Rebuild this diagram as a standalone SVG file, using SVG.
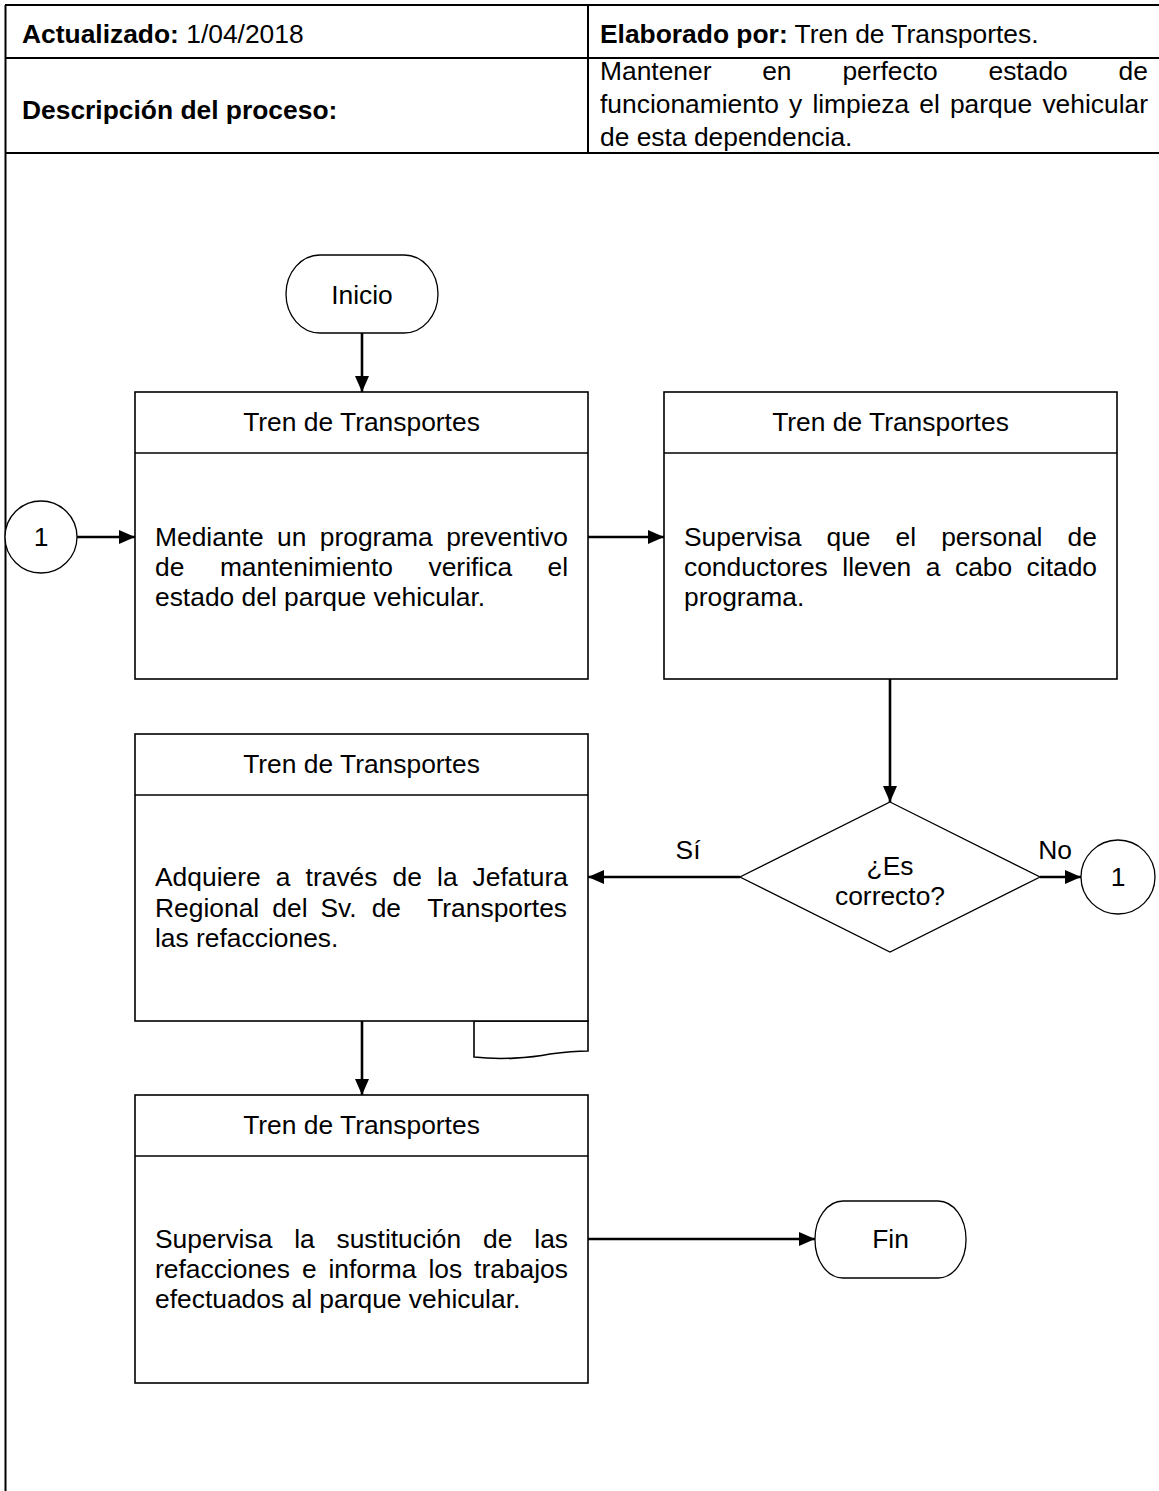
<svg xmlns="http://www.w3.org/2000/svg" width="1159" height="1491" viewBox="0 0 1159 1491">
<defs>
<marker id="arr" markerWidth="16" markerHeight="14" refX="16" refY="7" orient="auto" markerUnits="userSpaceOnUse">
<path d="M0,0 L16,7 L0,14 Z" fill="#000"/>
</marker>
<style>
text{font-family:"Liberation Sans",Arial,sans-serif;font-size:26.4px;fill:#000}
.b{font-weight:bold}
.c{text-anchor:middle}
.frame{stroke:#000;stroke-width:2;fill:none}
.box{stroke:#000;stroke-width:1.6;fill:#fff}
.conn{stroke:#000;stroke-width:2.6;fill:none;marker-end:url(#arr)}
.shape{stroke:#000;stroke-width:1.3;fill:#fff}
</style>
</defs>
<rect width="1159" height="1491" fill="#fff"/>
<g id="header">
<path class="frame" d="M5,5 H1159 M5,58 H1159 M5,153 H1159 M5.5,5 V1491 M588,5 V153"/>
<text x="22" y="43"><tspan class="b">Actualizado:</tspan> 1/04/2018</text>
<text x="600" y="43"><tspan class="b">Elaborado por:</tspan> Tren de Transportes.</text>
<text x="22" y="119" class="b">Descripción del proceso:</text>
<text y="80"><tspan x="600">Mantener</tspan><tspan x="762.2">en</tspan><tspan x="842.4">perfecto</tspan><tspan x="988.5">estado</tspan><tspan x="1118.6">de</tspan></text>
<text y="113"><tspan x="600">funcionamiento</tspan><tspan x="789.1">y</tspan><tspan x="812.4">limpieza</tspan><tspan x="919.3">el</tspan><tspan x="949.9">parque</tspan><tspan x="1042.4">vehicular</tspan></text>
<text x="600" y="146">de esta dependencia.</text>
</g>
<g id="connectors">
<line class="conn" x1="362" y1="333" x2="362" y2="392"/>
<line class="conn" x1="77" y1="537" x2="135" y2="537"/>
<line class="conn" x1="588" y1="537" x2="664" y2="537"/>
<line class="conn" x1="890" y1="679" x2="890" y2="802"/>
<line class="conn" x1="740" y1="877" x2="588" y2="877"/>
<line class="conn" x1="1040" y1="877" x2="1081" y2="877"/>
<line class="conn" x1="362" y1="1021" x2="362" y2="1095"/>
<line class="conn" x1="588" y1="1239" x2="815" y2="1239"/>
<text x="688" y="859" class="c">Sí</text>
<text x="1055" y="859" class="c">No</text>
</g>
<g id="inicio">
<rect class="shape" x="286" y="255" width="152" height="78" rx="34" ry="39"/>
<text x="362" y="304" class="c">Inicio</text>
</g>
<g id="conn-1-left">
<circle class="shape" cx="41" cy="537" r="36"/>
<text x="41" y="546" class="c">1</text>
</g>
<g id="boxA">
<rect class="box" x="135" y="392" width="453" height="287"/>
<line class="box" x1="135" y1="453" x2="588" y2="453"/>
<text x="361.5" y="431" class="c">Tren de Transportes</text>
<text y="546"><tspan x="155">Mediante</tspan><tspan x="277">un</tspan><tspan x="319.8">programa</tspan><tspan x="446.2">preventivo</tspan></text>
<text y="576"><tspan x="155">de</tspan><tspan x="219.9">mantenimiento</tspan><tspan x="428.5">verifica</tspan><tspan x="547.5">el</tspan></text>
<text x="155" y="606">estado del parque vehicular.</text>
</g>
<g id="boxB">
<rect class="box" x="664" y="392" width="453" height="287"/>
<line class="box" x1="664" y1="453" x2="1117" y2="453"/>
<text x="890.5" y="431" class="c">Tren de Transportes</text>
<text y="546"><tspan x="684">Supervisa</tspan><tspan x="826.5">que</tspan><tspan x="895.6">el</tspan><tspan x="941.2">personal</tspan><tspan x="1067.6">de</tspan></text>
<text y="576"><tspan x="684">conductores</tspan><tspan x="842.3">lleven</tspan><tspan x="925.8">a</tspan><tspan x="955">cabo</tspan><tspan x="1026.6">citado</tspan></text>
<text x="684" y="606">programa.</text>
</g>
<g id="decision">
<polygon class="shape" points="890,802 1040,877 890,952 740,877"/>
<text x="890" y="875" class="c">¿Es</text>
<text x="890" y="905" class="c">correcto?</text>
</g>
<g id="conn-1-right">
<circle class="shape" cx="1118" cy="877" r="37"/>
<text x="1118" y="886" class="c">1</text>
</g>
<g id="boxC">
<path class="box" d="M474,1021 V1057 C500,1060 530,1058 550,1054 C565,1052 575,1051 588,1051 V1021 Z"/>
<rect class="box" x="135" y="734" width="453" height="287"/>
<line class="box" x1="135" y1="795" x2="588" y2="795"/>
<text x="361.5" y="773" class="c">Tren de Transportes</text>
<text y="886"><tspan x="155">Adquiere</tspan><tspan x="275.8">a</tspan><tspan x="305.6">través</tspan><tspan x="392.6">de</tspan><tspan x="437.1">la</tspan><tspan x="472.6">Jefatura</tspan></text>
<text y="917"><tspan x="155">Regional</tspan><tspan x="272.3">del</tspan><tspan x="320.5">Sv.</tspan><tspan x="371.7">de</tspan><tspan x="427.2">Transportes</tspan></text>
<text x="155" y="947">las refacciones.</text>
</g>
<g id="boxD">
<rect class="box" x="135" y="1095" width="453" height="288"/>
<line class="box" x1="135" y1="1156" x2="588" y2="1156"/>
<text x="361.5" y="1134" class="c">Tren de Transportes</text>
<text y="1248"><tspan x="155">Supervisa</tspan><tspan x="294.2">la</tspan><tspan x="336.5">sustitución</tspan><tspan x="483">de</tspan><tspan x="534.3">las</tspan></text>
<text y="1278"><tspan x="155">refacciones</tspan><tspan x="301.9">e</tspan><tspan x="328.5">informa</tspan><tspan x="428.4">los</tspan><tspan x="474.1">trabajos</tspan></text>
<text x="155" y="1308">efectuados al parque vehicular.</text>
</g>
<g id="fin">
<rect class="shape" x="815" y="1201" width="151" height="77" rx="28" ry="38"/>
<text x="890.5" y="1248" class="c">Fin</text>
</g>
</svg>
